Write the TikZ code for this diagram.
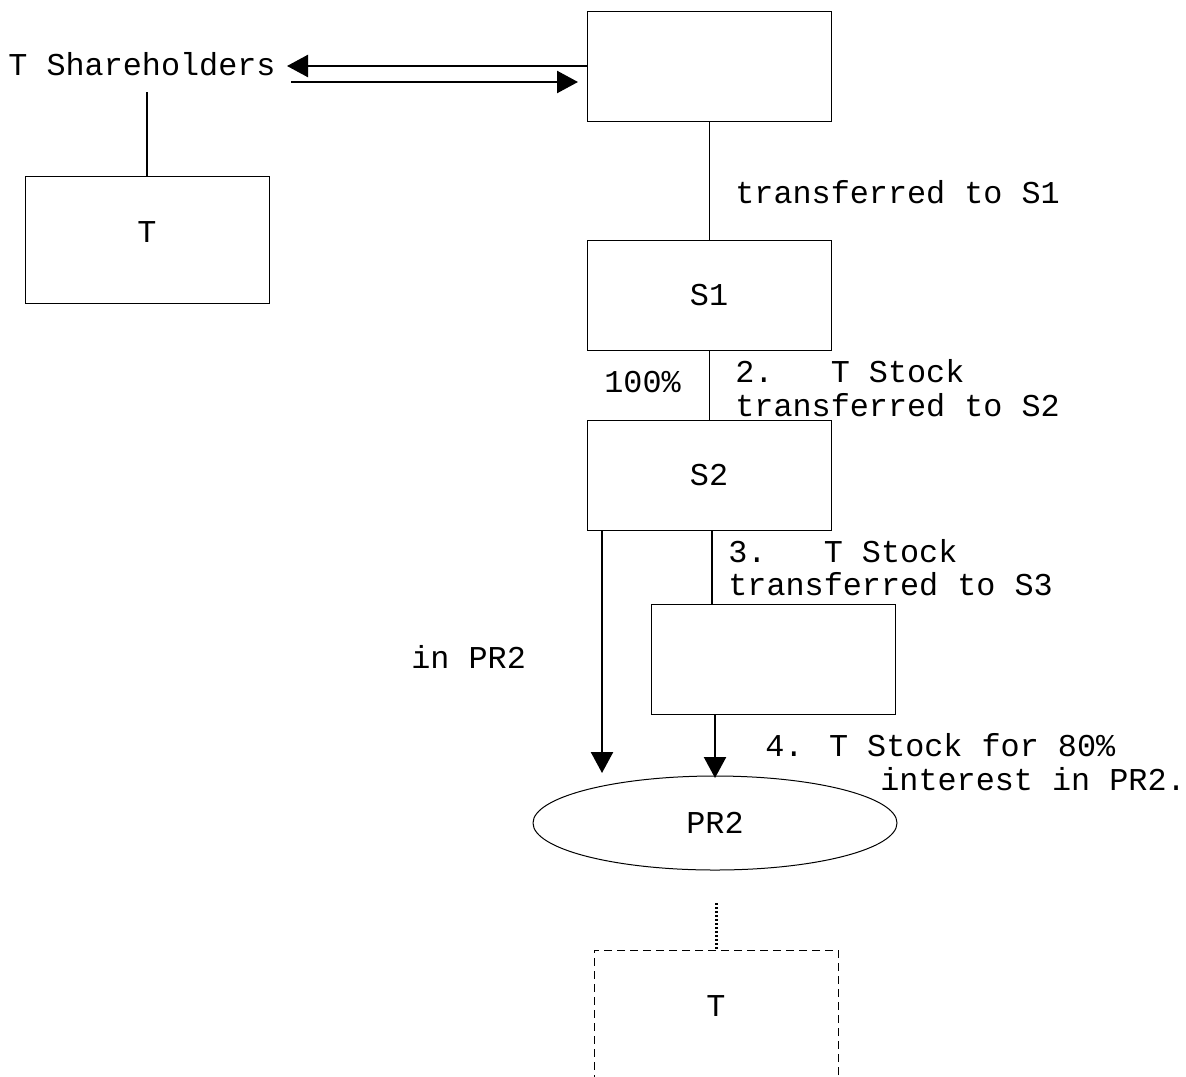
\documentclass[tikz,border=0pt]{standalone}
\usepackage{fontspec}
\setmainfont{Liberation Mono}
\usetikzlibrary{arrows.meta,shapes.geometric}
\begin{document}
\begin{tikzpicture}[x=0.5pt,y=-0.5pt,
  every node/.style={font=\fontsize{15.9pt}{17pt}\selectfont, inner sep=0pt},
  box/.style={draw, line width=0.5pt, minimum width=122pt, minimum height=55pt},
  dbox/.style={draw, line width=0.5pt, dash pattern=on 4pt off 2.5pt, minimum width=122pt, minimum height=90pt},
  txt/.style={anchor=base west},
  thin/.style={line width=0.5pt},
  thick/.style={line width=1.2pt},
  arr/.style={line width=1.2pt, -{Triangle[length=10.5pt,width=11pt]}},
  dotln/.style={line width=1.5pt, dash pattern=on 1pt off 1pt}
]
\useasboundingbox (0,0) rectangle (1186,1076);

% boxes
\node[box] (top) at (709,66) {};
\node[box] (S1) at (709,295.5) {S1};
\node[box] (S2) at (709,475.5) {S2};
\node[box] (S3) at (773,659.5) {};
\node[box, minimum height=63.5pt] (T1) at (147,240) {};
\node at (147,232) {T};
\node[draw, ellipse, line width=0.5pt, minimum width=182pt, minimum height=47pt] (PR2) at (715,823) {PR2};
\node[dbox] (T2) at (716,1040) {};
\node (T2lab) at (716,1006) {T};

% texts
\node[txt] (sh) at (8,75) {T Shareholders};
\node[txt] (l1) at (735,203) {transferred to S1};
\node[txt] (p100) at (604,392) {100\%};
\node[txt] (l2a) at (735,382) {2.\hspace*{1.8em}T Stock};
\node[txt] (l2b) at (735,416) {transferred to S2};
\node[txt] (l3a) at (728,562) {3.\hspace*{1.8em}T Stock};
\node[txt] (l3b) at (728,595) {transferred to S3};
\node[txt] (inpr) at (411,668) {in PR2};
\node[txt] (l4a) at (765,756) {4. T Stock for 80\%};
\node[txt] (l4b) at (880,790) {interest in PR2.};

% coordinates
\coordinate (a1e) at (287,66);
\coordinate (a2s) at (291,82);
\coordinate (a2e) at (578,82);
\coordinate (shb) at (147,92);
\coordinate (s2l) at (602,530);
\coordinate (s2le) at (602,773);
\coordinate (s2r) at (712,530);
\coordinate (s3t) at (712,604);
\coordinate (s3b) at (715,715);
\coordinate (pr2t) at (715,778);
\coordinate (pr2b) at (716,903);

% connectors
\draw[arr] (top.west) -- (a1e);
\draw[arr] (a2s) -- (a2e);
\draw[thick] (shb) -- (T1.north);
\draw[thin] (top.south) -- (S1.north);
\draw[thin] (S1.south) -- (S2.north);
\draw[thick] (s2r) -- (s3t);
\draw[arr] (s2l) -- (s2le);
\draw[arr] (s3b) -- (pr2t);
\draw[dotln] (pr2b) -- (T2.north);
\end{tikzpicture}
\end{document}
